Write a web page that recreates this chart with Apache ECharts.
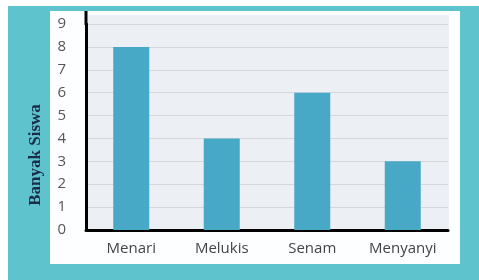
<!DOCTYPE html>
<html>
<head>
<meta charset="utf-8">
<script src="https://cdn.jsdelivr.net/npm/echarts@6/dist/echarts.min.js"></script>
<style>
  html, body { margin: 0; padding: 0; background: #ffffff; }
  #chart { width: 479px; height: 280px; }
</style>
</head>
<body>
<div id="chart"></div>
<script>
// data
var kegiatan = ['Menari', 'Melukis', 'Senam', 'Menyanyi'];
var banyakSiswa = [8, 4, 6, 3];
var judulY = 'Banyak Siswa';

var myChart = echarts.init(document.getElementById('chart'));

var option = {
  backgroundColor: '#ffffff',
  animation: false,
  // bingkai tosca + panel putih + area plot abu
  graphic: [
    { type: 'rect', z: -10, shape: { x: 8, y: 6, width: 471, height: 274 }, style: { fill: '#5ec3cc' } },
    { type: 'rect', z: -9, shape: { x: 50, y: 11, width: 410, height: 253 }, style: { fill: '#fdfeff' } },
    { type: 'rect', z: -8, shape: { x: 88, y: 15, width: 361, height: 215 }, style: { fill: '#eceff3' } },
    { type: 'line', z: 10, shape: { x1: 86, y1: 11, x2: 86, y2: 25 }, style: { stroke: '#000000', lineWidth: 3 } },
    {
      type: 'text', z: 10,
      rotation: Math.PI / 2,
      x: 36, y: 155,
      style: {
        text: judulY, fill: '#1b2b48',
        font: 'bold 17px "Liberation Serif", "DejaVu Serif", serif',
        align: 'center', verticalAlign: 'middle'
      }
    }
  ],
  grid: {
    left: 86,
    right: 31,
    top: 24,
    bottom: 50
  },
  xAxis: {
    type: 'category',
    data: kegiatan,
    axisLine: { lineStyle: { color: '#000000', width: 3 } },
    axisTick: { show: false },
    axisLabel: {
      color: '#444444',
      fontSize: 15,
      fontFamily: 'Open Sans',
      margin: 11
    }
  },
  yAxis: {
    type: 'value',
    min: 0,
    max: 9,
    interval: 1,
    axisLine: { show: true, lineStyle: { color: '#000000', width: 3 } },
    axisTick: { show: false },
    axisLabel: {
      color: '#555555',
      fontSize: 15,
      fontFamily: 'Open Sans',
      margin: 20
    },
    splitLine: {
      show: true,
      lineStyle: { color: '#d3d7dc', width: 1 }
    }
  },
  series: [{
    type: 'bar',
    data: banyakSiswa,
    barWidth: 36,
    itemStyle: { color: '#47a9c6' }
  }]
};

myChart.setOption(option);
</script>
</body>
</html>
